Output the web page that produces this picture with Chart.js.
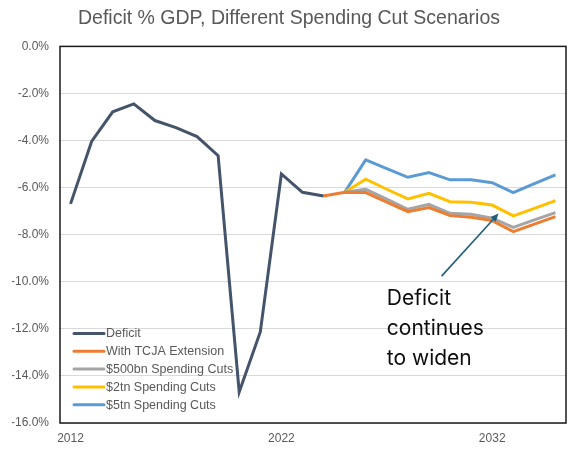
<!DOCTYPE html>
<html>
<head>
  <title>Deficit % GDP</title>
  <script src="https://cdn.jsdelivr.net/npm/chart.js"></script>
  <style>
    html, body { margin: 0; padding: 0; background: #fff; }
    #wrap { width: 578px; height: 452px; }
  </style>
</head>
<body>
  <div id="wrap"><canvas id="chart"></canvas></div>

  <script>
    const years = [2012, 2013, 2014, 2015, 2016, 2017, 2018, 2019, 2020, 2021, 2022, 2023,
                   2024, 2025, 2026, 2027, 2028, 2029, 2030, 2031, 2032, 2033, 2034, 2035];

    const deficit = [-6.69, -4.04, -2.78, -2.44, -3.15, -3.45, -3.83, -4.64, -14.68, -12.13, -5.42, -6.2,
                     -6.36, null, null, null, null, null, null, null, null, null, null, null];
    const tcja = [null, null, null, null, null, null, null, null, null, null, null, null,
                  -6.36, -6.2, -6.21, -6.62, -7.02, -6.85, -7.19, -7.26, -7.4, -7.87, -7.55, -7.23];
    const cuts500bn = [null, null, null, null, null, null, null, null, null, null, null, null,
                       null, -6.2, -6.07, -6.49, -6.92, -6.71, -7.09, -7.13, -7.3, -7.69, -7.37, -7.06];
    const cuts2tn = [null, null, null, null, null, null, null, null, null, null, null, null,
                     null, -6.2, -5.64, -6.07, -6.48, -6.24, -6.6, -6.62, -6.74, -7.2, -6.88, -6.55];
    const cuts5tn = [null, null, null, null, null, null, null, null, null, null, null, null,
                     null, -6.2, -4.82, -5.19, -5.56, -5.36, -5.67, -5.67, -5.79, -6.21, -5.83, -5.46];

    const labeledYears = [2012, 2022, 2032];

    const series = [
      { label: 'Deficit', data: deficit, color: '#44546a' },
      { label: 'With TCJA Extension', data: tcja, color: '#ed7d31' },
      { label: '$500bn Spending Cuts', data: cuts500bn, color: '#a5a5a5' },
      { label: '$2tn Spending Cuts', data: cuts2tn, color: '#ffc000' },
      { label: '$5tn Spending Cuts', data: cuts5tn, color: '#5b9bd5' }
    ];

    // border round the plot, inner legend and the annotation with its arrow
    const extras = {
      id: 'extras',
      afterDatasetsDraw(chart) {
        const { ctx, chartArea: a, scales } = chart;
        ctx.save();

        // legend, bottom-left inside the plot
        ctx.font = '12.5px "Liberation Sans", Arial, sans-serif';
        ctx.textBaseline = 'middle';
        ctx.textAlign = 'left';
        chart.data.datasets.forEach((ds, i) => {
          const y = a.bottom - 89.5 + i * 17.8;
          ctx.strokeStyle = ds.borderColor;
          ctx.lineWidth = 3;
          ctx.lineCap = 'round';
          ctx.beginPath();
          ctx.moveTo(a.left + 14, y);
          ctx.lineTo(a.left + 44, y);
          ctx.stroke();
          ctx.fillStyle = '#595959';
          ctx.fillText(ds.label, a.left + 46, y + 0.5);
        });

        // annotation
        const x = scales.x, yS = scales.y;
        const tx = x.getPixelForValue(15), ty = yS.getPixelForValue(-11.0);
        ctx.font = '21px Inter, "Open Sans", sans-serif';
        ctx.fillStyle = '#0d0d0d';
        ctx.textBaseline = 'alphabetic';
        ['Deficit', 'continues', 'to widen'].forEach((t, i) => ctx.fillText(t, tx, ty + i * 29.7));

        const x0 = x.getPixelForValue(17.6), y0 = yS.getPixelForValue(-9.76);
        const x1 = x.getPixelForValue(20.3), y1 = yS.getPixelForValue(-7.1);
        const ang = Math.atan2(y1 - y0, x1 - x0);
        ctx.strokeStyle = '#1f5f7b';
        ctx.fillStyle = '#1f5f7b';
        ctx.lineWidth = 1.6;
        ctx.lineCap = 'butt';
        ctx.beginPath();
        ctx.moveTo(x0, y0);
        ctx.lineTo(x1 - 6 * Math.cos(ang), y1 - 6 * Math.sin(ang));
        ctx.stroke();
        ctx.beginPath();
        ctx.moveTo(x1, y1);
        ctx.lineTo(x1 - 8 * Math.cos(ang) + 3.5 * Math.sin(ang), y1 - 8 * Math.sin(ang) - 3.5 * Math.cos(ang));
        ctx.lineTo(x1 - 8 * Math.cos(ang) - 3.5 * Math.sin(ang), y1 - 8 * Math.sin(ang) + 3.5 * Math.cos(ang));
        ctx.closePath();
        ctx.fill();

        // frame
        ctx.strokeStyle = '#1a1a1a';
        ctx.lineWidth = 1.5;
        ctx.strokeRect(a.left, a.top, a.right - a.left, a.bottom - a.top);
        ctx.restore();
      }
    };

    new Chart(document.getElementById('chart').getContext('2d'), {
      type: 'line',
      data: {
        labels: years,
        datasets: series.map(s => ({
          label: s.label,
          data: s.data,
          borderColor: s.color,
          backgroundColor: s.color,
          borderWidth: 3,
          pointRadius: 0,
          fill: false,
          tension: 0,
          spanGaps: false
        }))
      },
      options: {
        responsive: true,
        maintainAspectRatio: false,
        animation: false,
        layout: { padding: { left: 12, right: 12, top: 0, bottom: 0 } },
        plugins: {
          legend: { display: false },
          tooltip: { enabled: false },
          title: {
            display: true,
            text: 'Deficit % GDP, Different Spending Cut Scenarios',
            color: '#595959',
            font: { family: '"Liberation Sans", Arial, sans-serif', size: 19.5, weight: 'normal' },
            padding: { top: 7, bottom: 16 }
          }
        },
        scales: {
          x: {
            type: 'category',
            offset: true,
            grid: { display: false, drawTicks: false },
            border: { display: false },
            afterFit(scale) { scale.height = 29; },
            ticks: {
              autoSkip: false,
              maxRotation: 0,
              padding: 8,
              color: '#595959',
              font: { family: '"Liberation Sans", Arial, sans-serif', size: 12 },
              callback(v) {
                const yr = years[v];
                return labeledYears.includes(yr) ? String(yr) : '';
              }
            }
          },
          y: {
            min: -16,
            max: 0,
            afterFit(scale) { scale.width = 48; },
            grid: { color: '#d9d9d9', lineWidth: 1, drawTicks: false },
            border: { display: false },
            ticks: {
              stepSize: 2,
              padding: 11,
              color: '#595959',
              font: { family: '"Liberation Sans", Arial, sans-serif', size: 12 },
              callback: v => v.toFixed(1) + '%'
            }
          }
        }
      },
      plugins: [extras]
    });
  </script>
</body>
</html>
